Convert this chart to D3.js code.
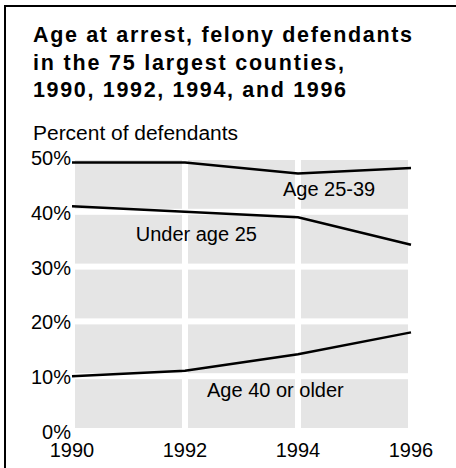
<!DOCTYPE html>
<html>
<head>
<meta charset="utf-8">
<script src="https://cdn.jsdelivr.net/npm/d3@7"></script>
<style>
  body { margin: 0; background: #fff; }
  text { font-family: Arial, "Liberation Sans", sans-serif; fill: #000; }
</style>
</head>
<body>
<div class="mainContainer"></div>
<script>
const years = [1990, 1992, 1994, 1996];
const yTicks = [0, 10, 20, 30, 40, 50];
const age25to39 = [49, 49, 47, 48];
const under25 = [41, 40, 39, 34];
const age40plus = [10, 11, 14, 18];
const seriesNames = ['Age 25-39', 'Under age 25', 'Age 40 or older'];
// label anchors in data space [year, percent]
const labelAt = [[1994.55, 42.9], [1992.2, 34.7], [1993.6, 6.2]];
const titleLines = ['Age at arrest, felony defendants', 'in the 75 largest counties,', '1990, 1992, 1994, and 1996'];

let width = 456;
let height = 468;

const svg = d3.select('.mainContainer')
  .append('svg')
  .attr('width', width)
  .attr('height', height);

// frame (only top and left edges visible)
svg.append('path')
  .attr('d', 'M5,' + height + 'V6H' + width)
  .attr('fill', 'none')
  .attr('stroke', '#000')
  .attr('stroke-width', 2);

// title
const titleWidths = [379, 311, 313];
svg.selectAll('.title')
  .data(titleLines)
  .enter()
  .append('text')
  .attr('x', 33)
  .attr('y', (d, i) => 42 + i * 27.5)
  .attr('textLength', (d, i) => titleWidths[i])
  .attr('lengthAdjust', 'spacing')
  .style('font-weight', 'bold')
  .style('font-size', '21.5px')
  .text((d) => d);

svg.append('text')
  .attr('x', 33)
  .attr('y', 139.5)
  .attr('textLength', 205)
  .attr('lengthAdjust', 'spacingAndGlyphs')
  .style('font-size', '20px')
  .text('Percent of defendants');

const x = d3.scaleLinear().domain([1990, 1996]).range([72, 411]);
const y = d3.scaleLinear().domain([0, 50]).range([431, 157]);

// gray cells with white gutters on the grid
const gap = 3;
const cells = [];
for (let i = 0; i < years.length - 1; i++) {
  for (let j = 0; j < yTicks.length - 1; j++) {
    cells.push({x0: years[i], x1: years[i + 1], y0: yTicks[j], y1: yTicks[j + 1]});
  }
}
svg.selectAll('.cell')
  .data(cells)
  .enter()
  .append('rect')
  .attr('x', (d) => x(d.x0) + gap)
  .attr('width', (d) => x(d.x1) - x(d.x0) - 2 * gap)
  .attr('y', (d) => y(d.y1) + gap)
  .attr('height', (d) => y(d.y0) - y(d.y1) - 2 * gap)
  .attr('fill', '#e5e5e5');

// y tick labels
svg.selectAll('.ytick')
  .data(yTicks)
  .enter()
  .append('text')
  .attr('x', 71)
  .attr('y', (d) => y(d) + 8)
  .attr('text-anchor', 'end')
  .style('font-size', '20px')
  .text((d) => d + '%');

// x tick labels
svg.selectAll('.xtick')
  .data(years)
  .enter()
  .append('text')
  .attr('x', (d) => x(d))
  .attr('y', 457)
  .attr('text-anchor', 'middle')
  .style('font-size', '20px')
  .text((d) => d);

const line = d3.line()
  .x((d, i) => x(years[i]))
  .y((d) => y(d));

svg.selectAll('.series')
  .data([age25to39, under25, age40plus])
  .enter()
  .append('path')
  .attr('d', line)
  .attr('fill', 'none')
  .attr('stroke', '#000')
  .attr('stroke-width', 2.5);

svg.selectAll('.slabel')
  .data(seriesNames)
  .enter()
  .append('text')
  .attr('x', (d, i) => x(labelAt[i][0]))
  .attr('y', (d, i) => y(labelAt[i][1]))
  .attr('text-anchor', 'middle')
  .style('font-size', '20px')
  .text((d) => d);
</script>
</body>
</html>
